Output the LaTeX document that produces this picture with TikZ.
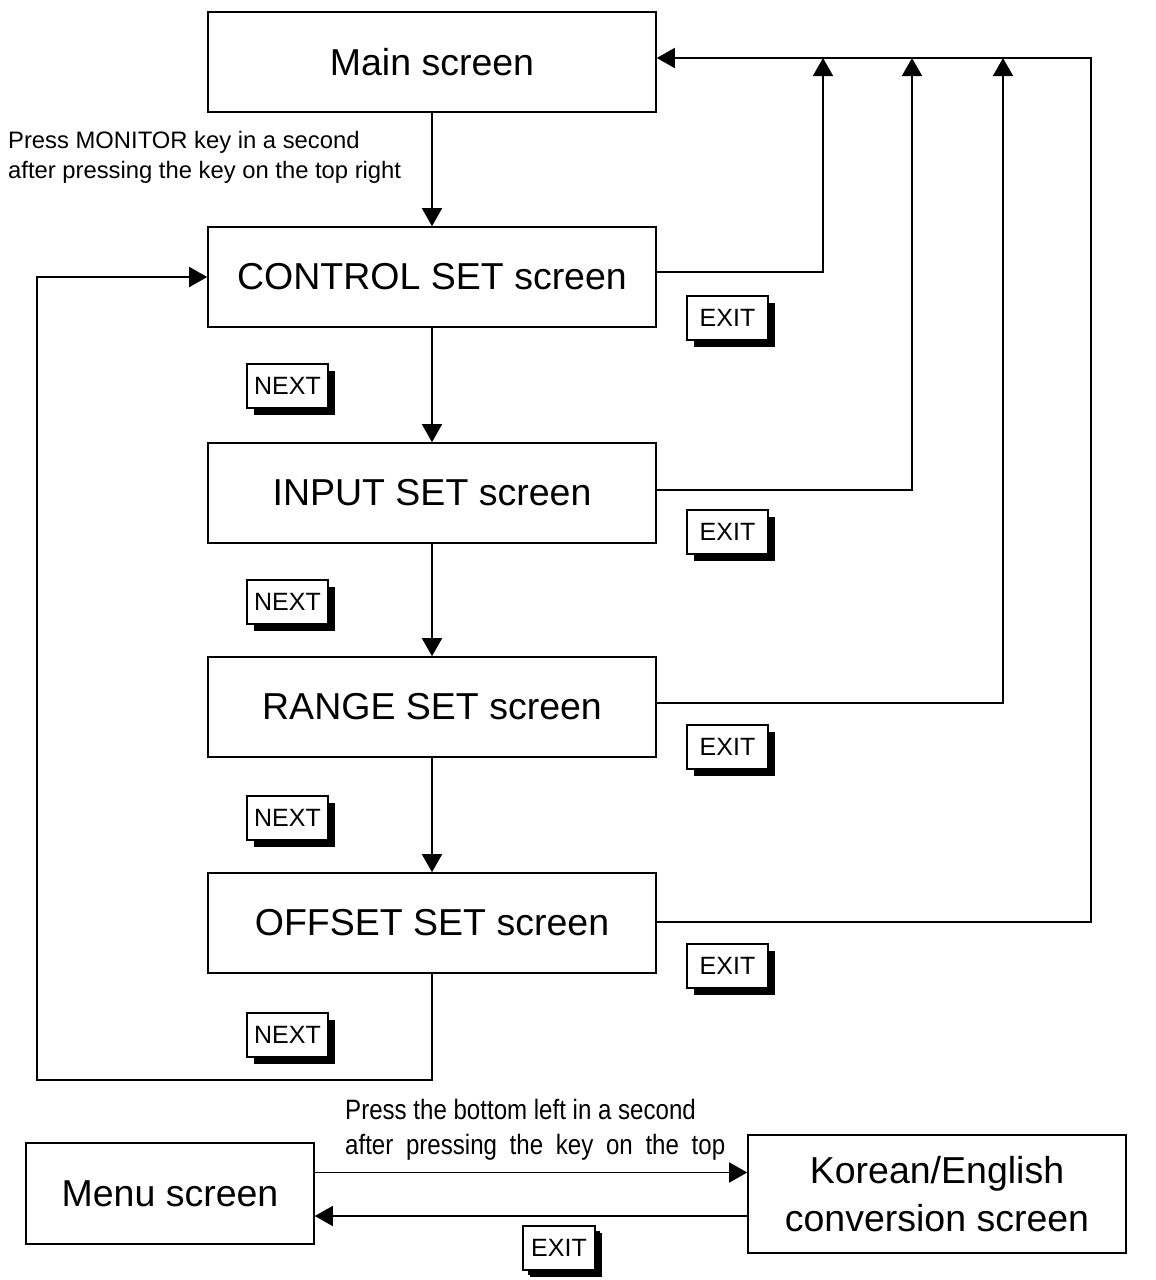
\documentclass[tikz,border=0pt]{standalone}
\usepackage{fontspec}
\setmainfont{Liberation Sans}
\newfontfamily\narrowfont[FakeStretch=0.86]{Liberation Sans}
\usetikzlibrary{arrows.meta,positioning,shadows}

\tikzset{
  screen/.style={draw,line width=1.6pt,minimum width=448pt,minimum height=100pt,
    inner sep=0pt,font=\fontsize{37.5}{48}\selectfont},
  keybox/.style={draw,line width=1.3pt,fill=white,minimum width=81pt,minimum height=44pt,
    inner sep=0pt,font=\fontsize{25}{30}\selectfont,
    drop shadow={shadow xshift=7pt,shadow yshift=-7pt,fill=black,opacity=1}},
  arr/.style={-{Triangle[length=18pt,width=20pt]},line width=1.6pt},
  plain/.style={line width=1.6pt}
}

\begin{document}
\begin{tikzpicture}[x=1pt,y=-1pt]
\useasboundingbox (0,0) rectangle (1156,1280);

% Screens
\node[screen] (main) at (432,62) {Main screen};
\node[screen] (control) at (432,277) {CONTROL SET screen};
\node[screen] (input) at (432,493) {INPUT SET screen};
\node[screen] (range) at (432,707) {RANGE SET screen};
\node[screen] (offset) at (432,923) {OFFSET SET screen};

% Entry note
\node[anchor=west,align=left,inner sep=0pt,font=\fontsize{23.8}{30}\selectfont] (monnote) at (8,157)
  {Press MONITOR key in a second\\after pressing the key on the top right};

% Downward chain
\draw[arr] (main.south) -- (control.north);
\draw[arr] (control.south) -- (input.north);
\draw[arr] (input.south) -- (range.north);
\draw[arr] (range.south) -- (offset.north);

% Back to CONTROL SET
\coordinate (loopcorner) at (37,1080);
\draw[arr] (offset.south) |- (loopcorner) |- (control.west);

% EXIT returns to main
\coordinate (ctrlup) at (823,58);
\coordinate (inputup) at (912,58);
\coordinate (rangeup) at (1003,58);
\coordinate (exitline) at (1091,58);
\draw[arr] ([yshift=5pt]control.east) -| (ctrlup);
\draw[arr] ([yshift=3pt]input.east) -| (inputup);
\draw[arr] ([yshift=4pt]range.east) -| (rangeup);
\draw[arr] ([yshift=1pt]offset.east) -| (exitline) -- ([yshift=4pt]main.east);

% Keys
\foreach \y [count=\i] in {386,602,818,1035}
  \node[keybox] (next\i) at (287.5,\y) {NEXT};
\foreach \y [count=\i] in {318,532,747,966}
  \node[keybox] (exit\i) at (727.5,\y) {EXIT};

% Menu / language
\node[screen,minimum width=288pt,minimum height=101pt] (menu) at (170,1193.5) {Menu screen};
\node[screen,minimum width=378pt,minimum height=118pt,align=center] (korean) at (937,1194)
  {Korean/English\\conversion screen};
\draw[arr] ([yshift=21pt]menu.east) -- ([yshift=21pt]menu.east -| korean.west);
\draw[arr] ([yshift=-22pt]korean.west) -- ([yshift=-22pt]korean.west -| menu.east);
\node[anchor=south west,align=left,inner sep=0pt,font=\narrowfont\fontsize{28}{35}\selectfont] (langnote) at (345,1160)
  {Press the bottom left in a second\\\makebox[380pt][s]{after pressing the key on the top}};
\node[keybox,minimum width=72pt,drop shadow={shadow xshift=5pt,shadow yshift=-5pt,fill=black,opacity=1}] (exitlang) at (559,1248) {EXIT};
\end{tikzpicture}
\end{document}
